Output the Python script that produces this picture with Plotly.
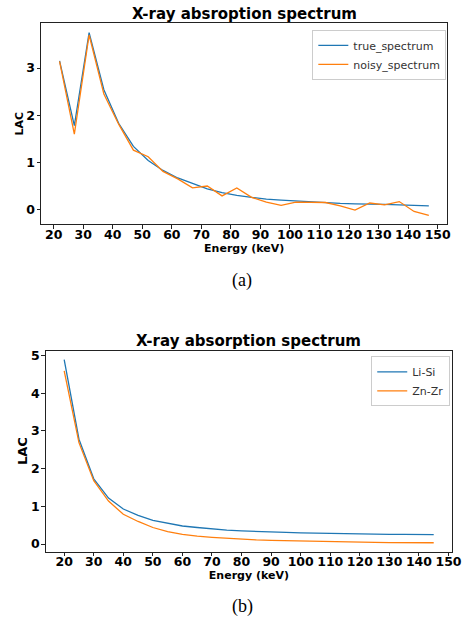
import plotly.graph_objects as go

W, H = 471, 621

# ---- data (a) ----
energy_a = [22, 27, 32, 37, 42, 47, 52, 57, 62, 67, 72, 77, 82, 87, 92, 97, 102, 107, 112, 117, 122, 127, 132, 137, 142, 147]
true_spectrum = [3.15, 1.78, 3.75, 2.54, 1.83, 1.34, 1.04, 0.83, 0.67, 0.55, 0.44, 0.36, 0.30, 0.26, 0.22, 0.20,
                 0.18, 0.16, 0.15, 0.13, 0.12, 0.12, 0.11, 0.10, 0.09, 0.08]
noisy_spectrum = [3.14, 1.60, 3.70, 2.45, 1.81, 1.26, 1.12, 0.81, 0.65, 0.46, 0.50, 0.29, 0.46, 0.26, 0.16, 0.09,
                  0.16, 0.15, 0.15, 0.08, -0.01, 0.14, 0.10, 0.17, -0.04, -0.12]

# ---- data (b) ----
energy_b = [20, 25, 30, 35, 40, 45, 50, 55, 60, 65, 70, 75, 80, 85, 90, 95, 100, 105, 110, 115, 120, 125, 130, 135, 140, 145]
li_si = [4.89, 2.78, 1.73, 1.22, 0.93, 0.76, 0.63, 0.55, 0.48, 0.44, 0.40, 0.37, 0.35, 0.33, 0.32, 0.31,
         0.30, 0.29, 0.28, 0.28, 0.27, 0.27, 0.26, 0.26, 0.25, 0.25]
zn_zr = [4.59, 2.69, 1.68, 1.14, 0.79, 0.60, 0.44, 0.33, 0.26, 0.21, 0.18, 0.15, 0.13, 0.11, 0.10, 0.09,
         0.08, 0.07, 0.06, 0.055, 0.05, 0.045, 0.04, 0.04, 0.035, 0.035]

x_ticks = list(range(20, 151, 10))
y_ticks_a = [0, 1, 2, 3]
y_ticks_b = [0, 1, 2, 3, 4, 5]

BLUE = "#1f77b4"
ORANGE = "#ff7f0e"
FONT = "DejaVu Sans"

def px_x(p):
    return p / W

def px_y(p):
    return 1 - p / H

fig = go.Figure()
fig.add_trace(go.Scatter(x=energy_a, y=true_spectrum, mode="lines", name="true_spectrum",
                         line=dict(color=BLUE, width=1.3), xaxis="x", yaxis="y", legend="legend"))
fig.add_trace(go.Scatter(x=energy_a, y=noisy_spectrum, mode="lines", name="noisy_spectrum",
                         line=dict(color=ORANGE, width=1.3), xaxis="x", yaxis="y", legend="legend"))
fig.add_trace(go.Scatter(x=energy_b, y=li_si, mode="lines", name="Li-Si",
                         line=dict(color=BLUE, width=1.3), xaxis="x2", yaxis="y2", legend="legend2"))
fig.add_trace(go.Scatter(x=energy_b, y=zn_zr, mode="lines", name="Zn-Zr",
                         line=dict(color=ORANGE, width=1.3), xaxis="x2", yaxis="y2", legend="legend2"))

tickfont = dict(family=FONT, size=12.5, color="black", weight="bold")
axis_common = dict(showline=True, linecolor="#222", linewidth=1.2, mirror=True, ticks="outside",
                   ticklen=3.5, tickwidth=1, tickcolor="#222", showgrid=False, zeroline=False,
                   tickfont=tickfont)

fig.update_layout(
    width=W, height=H,
    margin=dict(l=0, r=0, t=0, b=0),
    paper_bgcolor="white", plot_bgcolor="white",
    showlegend=True,
    xaxis=dict(domain=[px_x(42), px_x(457)], range=[15.75, 153.25], tickvals=x_ticks, anchor="y",
               ticklabelstandoff=-5,
               title=dict(text="Energy (keV)", font=dict(family=FONT, size=11, color="black", weight="bold"), standoff=0),
               **axis_common),
    yaxis=dict(domain=[px_y(222.3), px_y(20.3)], range=[-0.31, 3.95], tickvals=y_ticks_a, anchor="x",
               ticklabelstandoff=-1,
               title=dict(text="LAC", font=dict(family=FONT, size=11, color="black", weight="bold"), standoff=0),
               **axis_common),
    xaxis2=dict(domain=[px_x(46.7), px_x(462)], range=[13.75, 151.25], tickvals=x_ticks, anchor="y2",
                ticklabelstandoff=-5,
                title=dict(text="Energy (keV)", font=dict(family=FONT, size=11, color="black", weight="bold"), standoff=0),
                **axis_common),
    yaxis2=dict(domain=[px_y(551.3), px_y(349.3)], range=[-0.2, 5.13], tickvals=y_ticks_b, anchor="x2",
                ticklabelstandoff=-1,
                title=dict(text="LAC", font=dict(family=FONT, size=13, color="black", weight="bold"), standoff=0),
                **axis_common),
    legend=dict(x=px_x(456), y=px_y(27), xanchor="right", yanchor="top",
                bgcolor="rgba(255,255,255,0.8)", bordercolor="#cccccc", borderwidth=1,
                font=dict(family=FONT, size=11, color="#333"), itemwidth=30,
                tracegroupgap=0),
    legend2=dict(x=px_x(460), y=px_y(355), xanchor="right", yanchor="top",
                 bgcolor="rgba(255,255,255,0.8)", bordercolor="#cccccc", borderwidth=1,
                 font=dict(family=FONT, size=11, color="#333"), itemwidth=30,
                 tracegroupgap=0),
)

annotations = [
    dict(text="X-ray absroption spectrum", x=px_x(249.5), y=px_y(11), xref="paper", yref="paper",
         xanchor="center", yanchor="middle", showarrow=False,
         font=dict(family=FONT, size=15, color="black", weight="bold")),
    dict(text="X-ray absorption spectrum", x=px_x(254.3), y=px_y(340), xref="paper", yref="paper",
         xanchor="center", yanchor="middle", showarrow=False,
         font=dict(family=FONT, size=15, color="black", weight="bold")),
    dict(text="(a)", x=px_x(247.7), y=px_y(278.7), xref="paper", yref="paper",
         xanchor="center", yanchor="middle", showarrow=False,
         font=dict(family="Liberation Serif", size=18, color="black")),
    dict(text="(b)", x=px_x(247.3), y=px_y(606), xref="paper", yref="paper",
         xanchor="center", yanchor="middle", showarrow=False,
         font=dict(family="Liberation Serif", size=18, color="black")),
]
fig.update_layout(annotations=annotations)

fig.write_html("out.html")
